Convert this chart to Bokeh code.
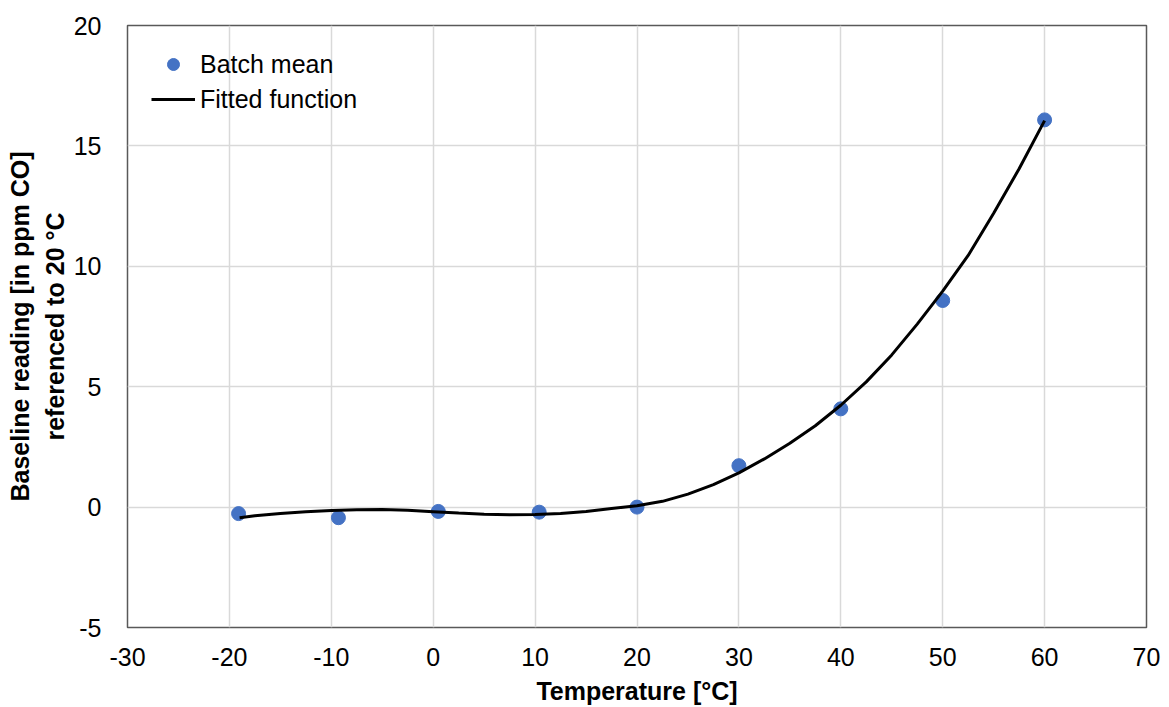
from bokeh.plotting import figure
from bokeh.models import Range1d, FixedTicker, Legend, LegendItem
from bokeh.embed import file_html
from bokeh.resources import INLINE

# Batch means
temp = [-19.1, -9.3, 0.5, 10.4, 20.0, 30.0, 40.0, 50.0, 60.0]
reading = [-0.27, -0.44, -0.18, -0.21, 0.0, 1.72, 4.08, 8.58, 16.08]

# Fitted function
fit_temp = [-19, -17.5, -15, -12.5, -10, -7.5, -5, -2.5, 0, 2.5, 5, 7.5, 10, 12.5,
            15, 17.5, 20, 22.5, 25, 27.5, 30, 32.5, 35, 37.5, 40, 42.5, 45, 47.5,
            50, 52.5, 55, 57.5, 60]
fit_value = [-0.44, -0.36, -0.27, -0.19, -0.14, -0.11, -0.10, -0.13, -0.19, -0.25,
             -0.30, -0.32, -0.31, -0.27, -0.18, -0.06, 0.06, 0.24, 0.54, 0.93,
             1.42, 2.00, 2.65, 3.38, 4.23, 5.20, 6.32, 7.60, 8.97, 10.45, 12.20,
             14.05, 16.05]

x_ticks = [-30, -20, -10, 0, 10, 20, 30, 40, 50, 60, 70]
y_ticks = [-5, 0, 5, 10, 15, 20]
x_labels = ["-30", "-20", "-10", "0", "10", "20", "30", "40", "50", "60", "70"]
y_labels = ["-5", "0", "5", "10", "15", "20"]

FONT = "Liberation Sans"

p = figure(width=1161, height=707, output_backend="svg", toolbar_location=None,
           x_range=Range1d(-30, 70), y_range=Range1d(-5, 20),
           min_border_left=127, min_border_right=15, min_border_top=25,
           min_border_bottom=80)

p.background_fill_color = "white"
p.border_fill_color = "white"
p.outline_line_color = "#595959"
p.outline_line_width = 1.5

for ax in (p.xaxis[0], p.yaxis[0]):
    ax.axis_line_color = None
    ax.major_tick_line_color = None
    ax.minor_tick_line_color = None
    ax.major_label_text_font = FONT
    ax.major_label_text_font_size = "25px"
    ax.major_label_text_color = "#000000"
    ax.axis_label_text_font = FONT
    ax.axis_label_text_font_size = "25px"
    ax.axis_label_text_font_style = "bold"
    ax.axis_label_text_color = "#000000"

p.xaxis.ticker = FixedTicker(ticks=x_ticks)
p.yaxis.ticker = FixedTicker(ticks=y_ticks)
p.xaxis.major_label_overrides = dict(zip(x_ticks, x_labels))
p.yaxis.major_label_overrides = dict(zip(y_ticks, y_labels))
p.xaxis.major_label_standoff = 14
p.yaxis.major_label_standoff = 20
p.xaxis.axis_label = "Temperature [°C]"
p.xaxis.axis_label_standoff = 8
p.yaxis.axis_label = "Baseline reading [in ppm CO]\nreferenced to 20 °C"
p.yaxis.axis_label_standoff = 2
p.yaxis.axis_label_text_line_height = 1.25

p.xgrid.ticker = FixedTicker(ticks=x_ticks)
p.ygrid.ticker = FixedTicker(ticks=y_ticks)
p.grid.grid_line_color = "#d9d9d9"
p.grid.grid_line_width = 1.5

pts = p.scatter(temp, reading, size=14, fill_color="#4472C4", line_color="#4472C4")
ln = p.line(fit_temp, fit_value, line_color="black", line_width=3)

legend = Legend(items=[LegendItem(label="Batch mean", renderers=[pts]),
                       LegendItem(label="Fitted function", renderers=[ln])],
                location="top_left")
legend.margin = 24
legend.padding = 4
legend.spacing = 5
legend.glyph_width = 44
legend.glyph_height = 30
legend.label_height = 30
legend.label_standoff = 5
legend.label_text_font = FONT
legend.label_text_font_size = "25px"
legend.label_text_color = "#000000"
legend.border_line_color = None
legend.background_fill_alpha = 0
p.add_layout(legend)

open("out.html", "w").write(file_html(p, INLINE))
